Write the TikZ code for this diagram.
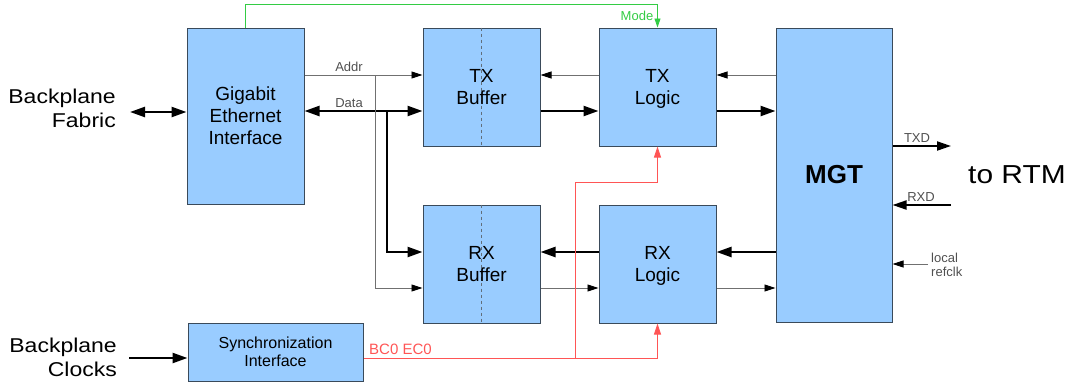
\documentclass[tikz,border=0pt]{standalone}
\usepackage{fontspec}
\setmainfont{Liberation Sans}
\newfontfamily\widefont[FakeStretch=1.15]{Liberation Sans}
\usetikzlibrary{arrows.meta}
\definecolor{boxfill}{HTML}{99CCFF}
\definecolor{boxline}{HTML}{3A4A5A}
\definecolor{thinline}{HTML}{707070}
\definecolor{redl}{HTML}{FF5555}
\definecolor{greenl}{HTML}{33CC44}
\definecolor{labelc}{HTML}{505050}
\begin{document}
\begin{tikzpicture}[x=1pt,y=-1pt,
  blk/.style={draw=boxline, line width=1pt, fill=boxfill, inner sep=0pt, align=center,
    font=\fontsize{19}{22}\selectfont},
  thickarr/.style={line width=2.4pt, -{Triangle[length=15pt,width=10pt]}},
  thickdbl/.style={line width=2.4pt, {Triangle[length=15pt,width=10pt]}-{Triangle[length=15pt,width=10pt]}},
  thinarr/.style={line width=0.9pt, draw=thinline, -{Triangle[length=11pt,width=7pt,color=black]}},
  redarr/.style={line width=0.9pt, draw=redl, -{Triangle[length=11pt,width=7pt,color=redl]}},
  greenarr/.style={line width=0.9pt, draw=greenl, -{Triangle[length=9pt,width=6pt,color=greenl]}},
  sig/.style={font=\fontsize{13}{15}\selectfont, text=labelc, inner sep=0pt},
  big/.style={font=\widefont\fontsize{20}{24}\selectfont, inner sep=0pt},
  divider/.style={draw=boxline!80, dashed, line width=1pt},
  btext/.style={font=\fontsize{19}{22}\selectfont, align=center, inner sep=0pt}
]
\useasboundingbox (0,0) rectangle (1068,386);

% blocks
\node[blk, minimum width=117pt, minimum height=176pt] (GbE) at (245.5,116) {Gigabit\\Ethernet\\Interface};
\node[blk, minimum width=117pt, minimum height=118pt] (TXB) at (481.5,87) {};
\node[blk, minimum width=117pt, minimum height=118pt] (TXL) at (657.5,87) {};
\node[blk, minimum width=116pt, minimum height=294pt, font=\fontsize{26}{30}\selectfont\bfseries] (MGT) at (834,175) {MGT};
\node[blk, minimum width=117pt, minimum height=118pt] (RXB) at (481.5,264) {};
\node[blk, minimum width=117pt, minimum height=118pt] (RXL) at (657.5,264) {};
\node[blk, minimum width=175pt, minimum height=58pt, font=\fontsize{16}{18}\selectfont] (Sync) at (275.5,352) {Synchronization\\Interface};

\draw[divider] (TXB.north) -- (TXB.south);
\draw[divider] (RXB.north) -- (RXB.south);
\node[btext] (TXBt) at (TXB.center) {TX\\Buffer};
\node[btext] (RXBt) at (RXB.center) {RX\\Buffer};
\node[btext] (TXLt) at ([yshift=-2pt]TXL.center) {TX\\Logic};
\node[btext] (RXLt) at ([yshift=-2pt]RXL.center) {RX\\Logic};

% outside texts
\node[big, align=right, anchor=east] (fab) at (116,108) {Backplane\\Fabric};
\node[big, align=right, anchor=east] (clk) at (117,357) {Backplane\\Clocks};
\node[big, anchor=west, font=\widefont\fontsize{26}{30}\selectfont] (rtm) at (968,175) {to RTM};

% helper coordinates
\coordinate (ya) at (0,75);
\coordinate (yd) at (0,111);
\coordinate (yrd) at (0,252);
\coordinate (yra) at (0,288);
\coordinate (xa) at (375,0);
\coordinate (xd) at (387,0);
\coordinate (fabL) at (130,112);
\coordinate (clkL) at (129,358);
\coordinate (txdE) at (951,146);
\coordinate (rxdE) at (951,205);
\coordinate (refE) at (928,264);

% backplane arrows
\draw[thickdbl] (fabL) -- (GbE.west |- fabL);
\draw[thickarr] (clkL) -- (Sync.west |- clkL);

% Addr / Data
\draw[thinarr] (GbE.east |- ya) -- (TXB.west |- ya);
\draw[thickdbl] (GbE.east |- yd) -- (TXB.west |- yd);
\draw[thinarr] (xa |- ya) -- (xa |- yra) -- (RXB.west |- yra);
\draw[thickarr] (xd |- yd) -- (xd |- yrd) -- (RXB.west |- yrd);
\node[sig, anchor=south] (addr) at (349,72) {Addr};
\node[sig, anchor=south] (data) at (349,108) {Data};

% TX path
\draw[thinarr] (TXL.west |- ya) -- (TXB.east |- ya);
\draw[thickarr] (TXB.east |- yd) -- (TXL.west |- yd);
\draw[thinarr] (MGT.west |- ya) -- (TXL.east |- ya);
\draw[thickarr] (TXL.east |- yd) -- (MGT.west |- yd);

% RX path
\draw[thickarr] (RXL.west |- yrd) -- (RXB.east |- yrd);
\draw[thinarr] (RXB.east |- yra) -- (RXL.west |- yra);
\draw[thickarr] (MGT.west |- yrd) -- (RXL.east |- yrd);
\draw[thinarr] (RXL.east |- yra) -- (MGT.west |- yra);

% MGT right side
\draw[line width=2pt, -{Triangle[length=14pt,width=9pt]}] (MGT.east |- txdE) -- (txdE);
\node[sig, anchor=south] (txd) at (917,143) {TXD};
\draw[line width=2pt, -{Triangle[length=14pt,width=9pt]}] (rxdE) -- (MGT.east |- rxdE);
\node[sig, anchor=south] (rxd) at (921,202) {RXD};
\draw[thinarr] (refE) -- (MGT.east |- refE);
\node[sig, anchor=west, align=left, font=\fontsize{13}{14}\selectfont] (ref) at (931,265) {local\\refclk};

% Mode (green)
\draw[greenarr] (GbE.north) -- ++(0,-23) -| (TXL.north);
\node[sig, text=greenl, anchor=south] (mode) at (637,21) {Mode};

% BC0 EC0 (red)
\coordinate (rs) at ([yshift=-6pt]Sync.east);
\coordinate (rb) at (575,0);
\coordinate (rt) at (0,182);
\draw[redarr] (rs) -- (RXL.south |- rs) -- (RXL.south);
\draw[redarr] (rb |- rs) -- (rb |- rt) -- (TXL.south |- rt) -- (TXL.south);
\node[sig, text=redl, anchor=south west, font=\fontsize{15}{17}\selectfont] (bc) at (369,355) {BC0 EC0};
\end{tikzpicture}
\end{document}
